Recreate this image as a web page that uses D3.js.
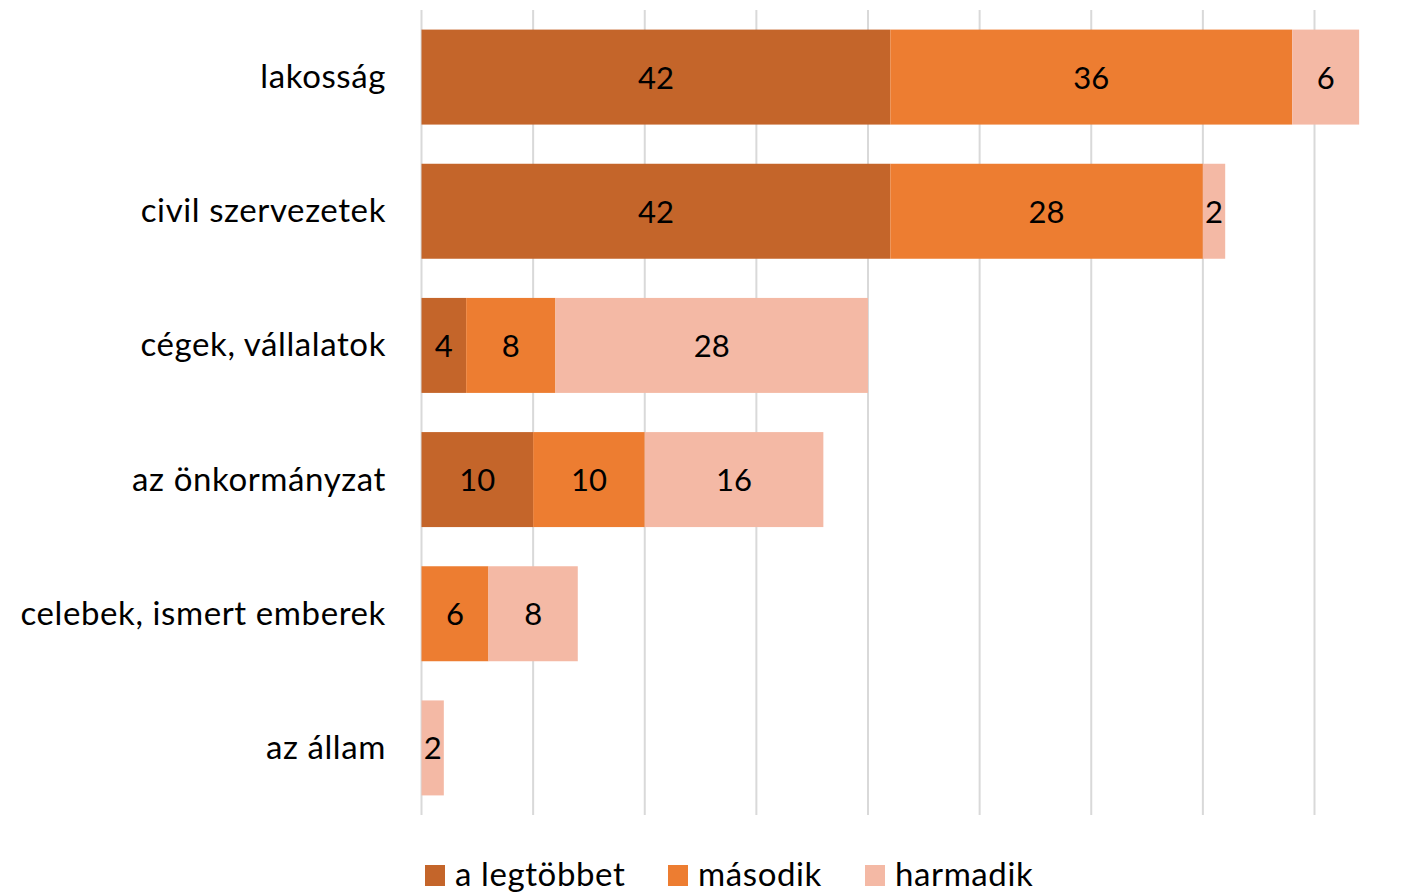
<!DOCTYPE html>
<html>
<head>
<meta charset="utf-8">
<script src="https://cdn.jsdelivr.net/npm/d3@7"></script>
<style>
  body { margin: 0; background: #fff; }
  text { font-family: Lato, "Open Sans", sans-serif; }
</style>
</head>
<body>
<svg id="chart"></svg>
<script>
const categories = ["lakosság", "civil szervezetek", "cégek, vállalatok", "az önkormányzat", "celebek, ismert emberek", "az állam"];
const seriesNames = ["a legtöbbet", "második", "harmadik"];
const legtobbet = [42, 42, 4, 10, 0, 0];
const masodik = [36, 28, 8, 10, 6, 0];
const harmadik = [6, 2, 28, 16, 8, 2];
const gridTicks = [0, 10, 20, 30, 40, 50, 60, 70, 80];

const colors = ["#C4652A", "#ED7D31", "#F4B9A5"];

const width = 1409, height = 894;
const svg = d3.select("#chart").attr("width", width).attr("height", height);

const x = d3.scaleLinear().domain([0, 80]).range([421.5, 1314.5]);
const y = d3.scaleBand().domain(categories).range([10, 815]).paddingInner(0.292).paddingOuter(0.146);

// gridlines
svg.append("g")
  .selectAll("line")
  .data(gridTicks)
  .join("line")
  .attr("x1", d => x(d)).attr("x2", d => x(d))
  .attr("y1", 10).attr("y2", 815)
  .attr("stroke", "#D9D9D9")
  .attr("stroke-width", 2);

const rows = categories.map((c, i) => ({ cat: c, values: [legtobbet[i], masodik[i], harmadik[i]] }));
const stack = d3.stack().keys([0, 1, 2]).value((d, k) => d.values[k]);
const series = stack(rows);

const gBars = svg.append("g");
series.forEach((s, k) => {
  const segs = s.map(d => ({ cat: d.data.cat, x0: d[0], x1: d[1], v: d.data.values[k] })).filter(d => d.v > 0);
  gBars.append("g").selectAll("rect")
    .data(segs)
    .join("rect")
    .attr("x", d => x(d.x0))
    .attr("y", d => y(d.cat))
    .attr("width", d => x(d.x1) - x(d.x0))
    .attr("height", y.bandwidth())
    .attr("fill", colors[k]);
  gBars.append("g").selectAll("text")
    .data(segs)
    .join("text")
    .attr("x", d => (x(d.x0) + x(d.x1)) / 2)
    .attr("y", d => y(d.cat) + y.bandwidth() / 2 + 11.5)
    .attr("text-anchor", "middle")
    .attr("font-size", 31)
    .attr("fill", "#000")
    .text(d => d.v);
});

// category labels
svg.append("g").selectAll("text")
  .data(categories)
  .join("text")
  .attr("x", 386)
  .attr("y", d => y(d) + y.bandwidth() / 2 + 11)
  .attr("text-anchor", "end")
  .attr("font-size", 33)
  .attr("letter-spacing", 0.6)
  .attr("fill", "#000")
  .text(d => d);

// legend
const legendX = [425, 668, 865];
const legend = svg.append("g").selectAll("g")
  .data(seriesNames)
  .join("g")
  .attr("transform", (d, i) => `translate(${legendX[i]},865)`);
legend.append("rect").attr("width", 20).attr("height", 21).attr("fill", (d, i) => colors[i]);
legend.append("text").attr("x", 30).attr("y", 21).attr("font-size", 33)
  .attr("letter-spacing", 0.6).attr("fill", "#000").text(d => d);
</script>
</body>
</html>
